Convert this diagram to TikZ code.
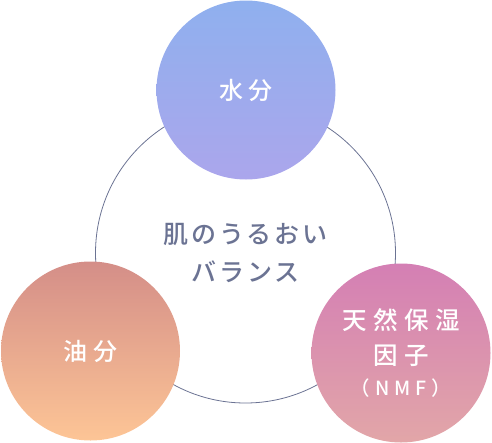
\documentclass[tikz,border=0pt]{standalone}
\usepackage{fontspec}
\newfontfamily\jpcenter[LetterSpace=11]{Noto Sans CJK JP Medium}
\newfontfamily\jpwide[LetterSpace=22]{Noto Sans CJK JP Medium}
\newfontfamily\jpnmf[LetterSpace=26]{Noto Sans CJK JP Medium}
\definecolor{ringcol}{RGB}{107,115,147}
\definecolor{waterT}{RGB}{143,176,238}
\definecolor{waterB}{RGB}{171,166,236}
\definecolor{oilT}{RGB}{212,142,136}
\definecolor{oilB}{RGB}{253,197,150}
\definecolor{nmfT}{RGB}{212,127,180}
\definecolor{nmfB}{RGB}{226,166,168}
\tikzset{
  ball/.style={circle, minimum size=179pt, inner sep=0pt, text=white, align=center},
}
\begin{document}
\begin{tikzpicture}[x=1pt,y=-1pt]
\useasboundingbox (0,0) rectangle (492,442);
\node[circle, draw=ringcol, line width=0.8pt, minimum size=300pt, inner sep=0pt,
      text=ringcol, align=center, font=\jpcenter\fontsize{25}{38}\selectfont] (ring) at (245.5,253) {肌のうるおい\\バランス};
\node[ball, top color=waterT, bottom color=waterB, font=\jpwide\fontsize{24}{34}\selectfont] (water) at (246,90) {水分};
\node[ball, top color=oilT, bottom color=oilB, font=\jpwide\fontsize{24}{34}\selectfont] (oil) at (90.5,351) {油分};
\node[ball, top color=nmfT, bottom color=nmfB, font=\jpnmf\fontsize{24.5}{35}\selectfont] (nmf) at (401,353) {天然保湿\\因子\\[-4pt]{\fontsize{19.5}{28}\selectfont （NMF）}};
\end{tikzpicture}
\end{document}
